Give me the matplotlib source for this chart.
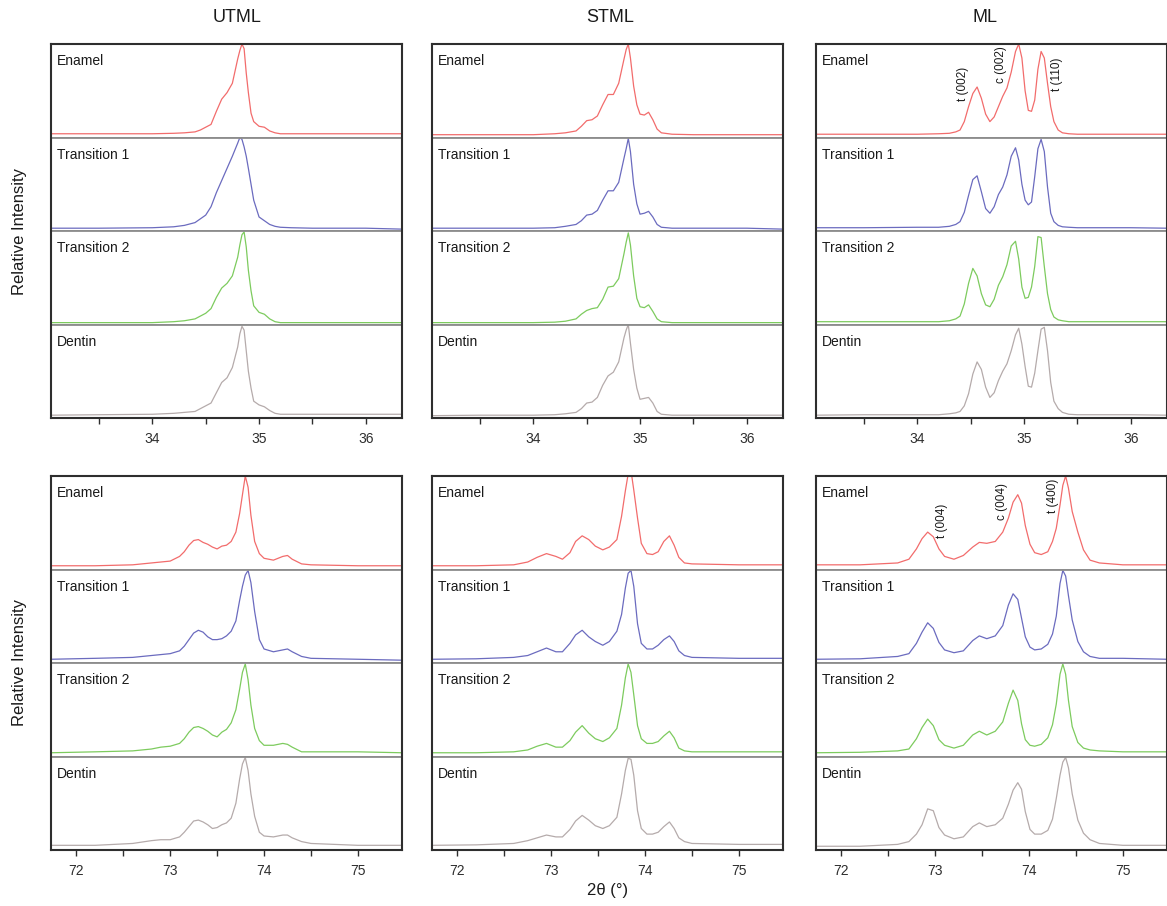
import numpy as np
import matplotlib
matplotlib.use("Agg")
import matplotlib.pyplot as plt

plt.rcParams['font.family'] = ['Liberation Sans', 'DejaVu Sans']

W, H = 1167, 906

samples = ["Enamel", "Transition 1", "Transition 2", "Dentin"]
colors = ["#f26c6c", "#6b6bbf", "#7dcb5e", "#b5abab"]
columns = ["UTML", "STML", "ML"]

### 2theta ~ 35 deg region (top row), relative intensity per subpanel
x_top_utml = [33.05, 33.5, 34.0, 34.2, 34.3, 34.4, 34.45, 34.5, 34.55, 34.6, 34.65, 34.7, 34.75, 34.8,
              34.82, 34.84, 34.86, 34.88, 34.9, 34.925, 34.95, 35.0, 35.05, 35.1, 35.15, 35.2, 35.3,
              35.5, 36.0, 36.34]
utml_top_enamel = [0.04, 0.04, 0.04, 0.045, 0.05, 0.06, 0.08, 0.11, 0.14, 0.28, 0.41, 0.48, 0.58, 0.84, 0.93,
                   1.0, 0.95, 0.69, 0.48, 0.26, 0.17, 0.12, 0.11, 0.07, 0.05, 0.04, 0.04, 0.04, 0.04, 0.04]
utml_top_t1 = [0.03, 0.03, 0.035, 0.045, 0.06, 0.09, 0.13, 0.17, 0.26, 0.41, 0.54, 0.67, 0.80, 0.94, 1.0,
               0.98, 0.90, 0.80, 0.67, 0.50, 0.33, 0.15, 0.11, 0.07, 0.05, 0.04, 0.035, 0.03, 0.03, 0.02]
utml_top_t2 = [0.02, 0.02, 0.02, 0.03, 0.04, 0.06, 0.09, 0.12, 0.17, 0.29, 0.39, 0.44, 0.52, 0.72, 0.85,
               0.96, 0.99, 0.83, 0.58, 0.36, 0.20, 0.13, 0.11, 0.06, 0.03, 0.02, 0.02, 0.02, 0.02, 0.02]
utml_top_dentin = [0.03, 0.035, 0.04, 0.05, 0.06, 0.07, 0.10, 0.13, 0.16, 0.27, 0.38, 0.43, 0.54, 0.76, 0.90,
                   0.98, 0.94, 0.72, 0.50, 0.32, 0.18, 0.14, 0.12, 0.08, 0.05, 0.04, 0.04, 0.04, 0.04, 0.04]

x_top_stml = [33.05, 33.5, 34.0, 34.2, 34.3, 34.4, 34.45, 34.5, 34.55, 34.6, 34.65, 34.7, 34.75, 34.8,
              34.85, 34.87, 34.89, 34.91, 34.94, 34.97, 35.0, 35.04, 35.08, 35.12, 35.16, 35.2, 35.3,
              35.5, 36.0, 36.34]
stml_top_enamel = [0.03, 0.03, 0.03, 0.04, 0.05, 0.07, 0.12, 0.18, 0.19, 0.23, 0.35, 0.46, 0.46, 0.58, 0.84,
                   0.94, 1.0, 0.85, 0.55, 0.35, 0.25, 0.24, 0.27, 0.19, 0.09, 0.05, 0.035, 0.03, 0.03, 0.03]
stml_top_t1 = [0.03, 0.03, 0.03, 0.035, 0.05, 0.07, 0.11, 0.17, 0.18, 0.22, 0.33, 0.43, 0.43, 0.52, 0.78,
               0.88, 0.99, 0.85, 0.50, 0.29, 0.18, 0.19, 0.21, 0.15, 0.07, 0.04, 0.03, 0.03, 0.03, 0.02]
stml_top_t2 = [0.02, 0.02, 0.02, 0.025, 0.035, 0.06, 0.11, 0.15, 0.17, 0.18, 0.27, 0.40, 0.41, 0.49, 0.76,
               0.88, 0.98, 0.85, 0.52, 0.28, 0.19, 0.18, 0.21, 0.14, 0.06, 0.03, 0.02, 0.02, 0.02, 0.02]
stml_top_dentin = [0.025, 0.03, 0.03, 0.035, 0.045, 0.06, 0.10, 0.16, 0.17, 0.22, 0.35, 0.45, 0.49, 0.60, 0.86,
                   0.94, 1.0, 0.80, 0.52, 0.32, 0.20, 0.21, 0.22, 0.16, 0.07, 0.04, 0.03, 0.03, 0.03, 0.03]

x_top_ml = [33.05, 33.5, 34.0, 34.2, 34.3, 34.36, 34.4, 34.44, 34.48, 34.52, 34.56, 34.6, 34.64, 34.68,
            34.72, 34.76, 34.8, 34.84, 34.88, 34.92, 34.95, 34.98, 35.01, 35.04, 35.07, 35.1, 35.13,
            35.16, 35.19, 35.22, 35.25, 35.28, 35.32, 35.36, 35.42, 35.5, 36.0, 36.34]
ml_top_enamel = [0.035, 0.035, 0.035, 0.04, 0.045, 0.06, 0.08, 0.17, 0.33, 0.47, 0.54, 0.42, 0.25, 0.17,
                 0.22, 0.33, 0.44, 0.53, 0.70, 0.92, 1.0, 0.85, 0.50, 0.29, 0.28, 0.40, 0.73, 0.92, 0.85,
                 0.58, 0.33, 0.17, 0.08, 0.05, 0.04, 0.035, 0.035, 0.035]
ml_top_t1 = [0.035, 0.035, 0.04, 0.04, 0.05, 0.07, 0.10, 0.20, 0.38, 0.55, 0.59, 0.42, 0.24, 0.19, 0.26,
             0.39, 0.47, 0.60, 0.80, 0.89, 0.76, 0.50, 0.33, 0.28, 0.31, 0.58, 0.88, 0.98, 0.85, 0.47,
             0.19, 0.10, 0.06, 0.045, 0.04, 0.035, 0.035, 0.03]
ml_top_t2 = [0.03, 0.03, 0.03, 0.03, 0.04, 0.06, 0.09, 0.22, 0.44, 0.60, 0.52, 0.33, 0.21, 0.19, 0.27,
             0.42, 0.51, 0.64, 0.84, 0.89, 0.70, 0.40, 0.28, 0.29, 0.40, 0.62, 0.94, 0.93, 0.62, 0.33,
             0.16, 0.08, 0.05, 0.04, 0.03, 0.03, 0.03, 0.03]
ml_top_dentin = [0.03, 0.035, 0.035, 0.035, 0.045, 0.055, 0.07, 0.13, 0.26, 0.47, 0.60, 0.52, 0.33, 0.22,
                 0.27, 0.40, 0.50, 0.58, 0.72, 0.89, 0.96, 0.79, 0.55, 0.34, 0.33, 0.48, 0.72, 0.95, 0.97,
                 0.72, 0.38, 0.18, 0.10, 0.06, 0.04, 0.035, 0.035, 0.03]

### 2theta ~ 74 deg region (bottom row)
x_bot_utml = [71.73, 72.2, 72.6, 72.8, 72.9, 73.0, 73.1, 73.15, 73.2, 73.25, 73.3, 73.35, 73.4, 73.45,
              73.5, 73.55, 73.6, 73.65, 73.7, 73.74, 73.77, 73.8, 73.83, 73.86, 73.9, 73.95, 74.0,
              74.1, 74.2, 74.25, 74.3, 74.4, 74.5, 75.0, 75.47]
utml_bot_enamel = [0.04, 0.04, 0.05, 0.07, 0.08, 0.09, 0.14, 0.19, 0.26, 0.31, 0.32, 0.29, 0.27, 0.24, 0.22,
                   0.25, 0.26, 0.30, 0.40, 0.60, 0.80, 1.0, 0.88, 0.58, 0.30, 0.17, 0.12, 0.10, 0.14, 0.15,
                   0.11, 0.06, 0.05, 0.04, 0.04]
utml_bot_t1 = [0.04, 0.05, 0.06, 0.08, 0.09, 0.10, 0.13, 0.18, 0.25, 0.32, 0.35, 0.33, 0.28, 0.25, 0.25,
               0.26, 0.29, 0.34, 0.45, 0.67, 0.82, 0.94, 0.99, 0.86, 0.55, 0.25, 0.15, 0.12, 0.14, 0.15,
               0.12, 0.07, 0.05, 0.04, 0.03]
utml_bot_t2 = [0.04, 0.05, 0.06, 0.08, 0.10, 0.11, 0.14, 0.19, 0.26, 0.31, 0.32, 0.30, 0.27, 0.23, 0.21,
               0.26, 0.29, 0.36, 0.50, 0.72, 0.90, 0.99, 0.82, 0.55, 0.30, 0.17, 0.12, 0.12, 0.14, 0.13,
               0.10, 0.05, 0.05, 0.05, 0.04]
utml_bot_dentin = [0.05, 0.05, 0.07, 0.10, 0.11, 0.11, 0.14, 0.19, 0.25, 0.31, 0.32, 0.30, 0.27, 0.23, 0.24,
                   0.27, 0.29, 0.34, 0.50, 0.76, 0.92, 0.99, 0.85, 0.60, 0.36, 0.19, 0.15, 0.14, 0.16, 0.16,
                   0.13, 0.09, 0.07, 0.05, 0.05]

x_bot_stml = [71.73, 72.2, 72.6, 72.75, 72.85, 72.95, 73.05, 73.12, 73.2, 73.26, 73.33, 73.4, 73.47,
              73.55, 73.62, 73.7, 73.75, 73.79, 73.82, 73.85, 73.88, 73.92, 73.96, 74.02, 74.08, 74.14,
              74.2, 74.26, 74.31, 74.36, 74.42, 74.5, 75.0, 75.47]
stml_bot_enamel = [0.04, 0.04, 0.05, 0.08, 0.13, 0.17, 0.14, 0.11, 0.18, 0.30, 0.36, 0.32, 0.25, 0.21, 0.24,
                   0.32, 0.57, 0.84, 1.02, 1.06, 0.85, 0.55, 0.28, 0.17, 0.16, 0.19, 0.30, 0.36, 0.26, 0.13,
                   0.07, 0.06, 0.05, 0.05]
stml_bot_t1 = [0.04, 0.045, 0.06, 0.08, 0.12, 0.16, 0.12, 0.12, 0.21, 0.30, 0.35, 0.28, 0.23, 0.19, 0.23,
               0.34, 0.52, 0.80, 0.96, 0.99, 0.82, 0.42, 0.21, 0.15, 0.15, 0.19, 0.25, 0.29, 0.23, 0.13,
               0.08, 0.06, 0.05, 0.05]
stml_bot_t2 = [0.04, 0.04, 0.05, 0.07, 0.11, 0.14, 0.10, 0.10, 0.17, 0.26, 0.33, 0.25, 0.19, 0.16, 0.20,
               0.30, 0.55, 0.84, 0.99, 0.90, 0.66, 0.33, 0.19, 0.14, 0.14, 0.16, 0.22, 0.27, 0.20, 0.09,
               0.06, 0.05, 0.05, 0.05]
stml_bot_dentin = [0.05, 0.055, 0.07, 0.10, 0.13, 0.16, 0.14, 0.14, 0.22, 0.31, 0.37, 0.32, 0.26, 0.23, 0.26,
                   0.35, 0.60, 0.85, 0.98, 0.97, 0.80, 0.42, 0.23, 0.17, 0.17, 0.19, 0.25, 0.30, 0.23, 0.13,
                   0.09, 0.07, 0.06, 0.06]

x_bot_ml = [71.73, 72.2, 72.6, 72.72, 72.8, 72.86, 72.92, 72.98, 73.04, 73.1, 73.2, 73.3, 73.4, 73.47,
            73.55, 73.64, 73.72, 73.78, 73.83, 73.88, 73.92, 73.96, 74.01, 74.06, 74.13, 74.2, 74.25,
            74.29, 74.33, 74.36, 74.39, 74.42, 74.46, 74.52, 74.58, 74.65, 74.75, 75.0, 75.47]
ml_bot_enamel = [0.05, 0.05, 0.07, 0.11, 0.22, 0.33, 0.40, 0.35, 0.22, 0.14, 0.11, 0.15, 0.24, 0.29, 0.28,
                 0.30, 0.40, 0.55, 0.72, 0.80, 0.71, 0.47, 0.27, 0.18, 0.16, 0.19, 0.30, 0.44, 0.69, 0.90,
                 1.0, 0.87, 0.62, 0.40, 0.21, 0.10, 0.07, 0.05, 0.05]
ml_bot_t1 = [0.04, 0.045, 0.07, 0.10, 0.21, 0.33, 0.43, 0.37, 0.22, 0.14, 0.11, 0.13, 0.24, 0.29, 0.26,
             0.29, 0.40, 0.62, 0.74, 0.68, 0.48, 0.28, 0.17, 0.14, 0.15, 0.20, 0.31, 0.50, 0.85, 0.99,
             0.93, 0.72, 0.46, 0.23, 0.12, 0.07, 0.05, 0.05, 0.04]
ml_bot_t2 = [0.04, 0.045, 0.06, 0.08, 0.19, 0.31, 0.40, 0.33, 0.18, 0.12, 0.09, 0.12, 0.23, 0.27, 0.23,
             0.27, 0.37, 0.57, 0.71, 0.60, 0.35, 0.18, 0.12, 0.11, 0.13, 0.20, 0.34, 0.56, 0.88, 0.99,
             0.88, 0.60, 0.32, 0.15, 0.09, 0.07, 0.06, 0.05, 0.05]
ml_bot_dentin = [0.04, 0.04, 0.06, 0.09, 0.17, 0.27, 0.44, 0.42, 0.24, 0.16, 0.12, 0.14, 0.25, 0.29, 0.25,
                 0.27, 0.34, 0.49, 0.64, 0.72, 0.65, 0.41, 0.22, 0.17, 0.17, 0.21, 0.33, 0.55, 0.80, 0.94,
                 0.99, 0.88, 0.60, 0.32, 0.18, 0.11, 0.07, 0.05, 0.05]

# peak labels on the ML enamel curves: (text, 2theta, height in subpanel)
ml_top_peaks = [("t (002)", 34.43, 0.57), ("c (002)", 34.78, 0.78), ("t (110)", 35.31, 0.68)]
ml_bot_peaks = [("t (004)", 73.07, 0.52), ("c (004)", 73.71, 0.73), ("t (400)", 74.25, 0.79)]

panels = [
    (0, 0, x_top_utml, [utml_top_enamel, utml_top_t1, utml_top_t2, utml_top_dentin]),
    (0, 1, x_top_stml, [stml_top_enamel, stml_top_t1, stml_top_t2, stml_top_dentin]),
    (0, 2, x_top_ml, [ml_top_enamel, ml_top_t1, ml_top_t2, ml_top_dentin]),
    (1, 0, x_bot_utml, [utml_bot_enamel, utml_bot_t1, utml_bot_t2, utml_bot_dentin]),
    (1, 1, x_bot_stml, [stml_bot_enamel, stml_bot_t1, stml_bot_t2, stml_bot_dentin]),
    (1, 2, x_bot_ml, [ml_bot_enamel, ml_bot_t1, ml_bot_t2, ml_bot_dentin]),
]

row_xlim = [(33.05, 36.34), (71.73, 75.47)]
row_major = [[34, 35, 36], [72, 73, 74, 75]]
row_minor = [[33.5, 34.5, 35.5], [72.5, 73.5, 74.5]]
row_top = [44, 476]
col_left = [51, 432, 816]
pw, ph = 351, 374
sub_h = ph / 4.0

frame_col = "#2e2e2e"
sep_col = "#8c8c8c"

fig = plt.figure(figsize=(W / 100.0, H / 100.0), dpi=100)


def rect(left, top, w, h):
    return [left / W, 1 - (top + h) / H, w / W, h / H]


for row, col, xs, curves in panels:
    left = col_left[col]
    top = row_top[row]
    for i in range(4):
        ax = fig.add_axes(rect(left, top + i * sub_h, pw, sub_h))
        ax.plot(xs, curves[i], color=colors[i], lw=0.9)
        ax.set_xlim(*row_xlim[row])
        ax.set_ylim(0, 1.0)
        ax.set_xticks([])
        ax.set_yticks([])
        for s in ax.spines.values():
            s.set_color(sep_col)
            s.set_linewidth(1.3)
        ax.text(0.017, 0.89, samples[i], transform=ax.transAxes, fontsize=10,
                va='top', ha='left', color="#1a1a1a")
        if i == 0 and col == 2:
            peaks = ml_top_peaks if row == 0 else ml_bot_peaks
            for lab, px, py in peaks:
                ax.text(px, py, lab, rotation=90, fontsize=8.5, ha='center', va='center',
                        color="#1a1a1a", transform=ax.get_xaxis_transform())

    # outer frame with the 2theta ticks
    fr = fig.add_axes(rect(left, top, pw, ph))
    fr.patch.set_alpha(0)
    fr.set_xlim(*row_xlim[row])
    fr.set_ylim(0, 1)
    fr.set_yticks([])
    fr.set_xticks(row_major[row])
    fr.set_xticks(row_minor[row], minor=True)
    fr.tick_params(axis='x', which='major', direction='out', length=4, width=1,
                   labelsize=10, colors=frame_col, pad=6)
    fr.tick_params(axis='x', which='minor', direction='out', length=4, width=1, colors=frame_col)
    for s in fr.spines.values():
        s.set_color(frame_col)
        s.set_linewidth(1.5)

### labels
for c, name in enumerate(columns):
    fig.text([237, 610, 985][c] / W, 1 - 18 / H, name, fontsize=13, ha='center', va='center',
             color="#1a1a1a")

for top in row_top:
    fig.text(20 / W, 1 - (top + ph / 2) / H, "Relative Intensity", rotation=90, fontsize=12,
             ha='center', va='center', color="#1a1a1a")

fig.text(608 / W, 1 - 890 / H, u"2\u03b8 (\u00b0)", fontsize=12, ha='center', va='center',
         color="#1a1a1a")

plt.savefig("out.png", dpi=100)
